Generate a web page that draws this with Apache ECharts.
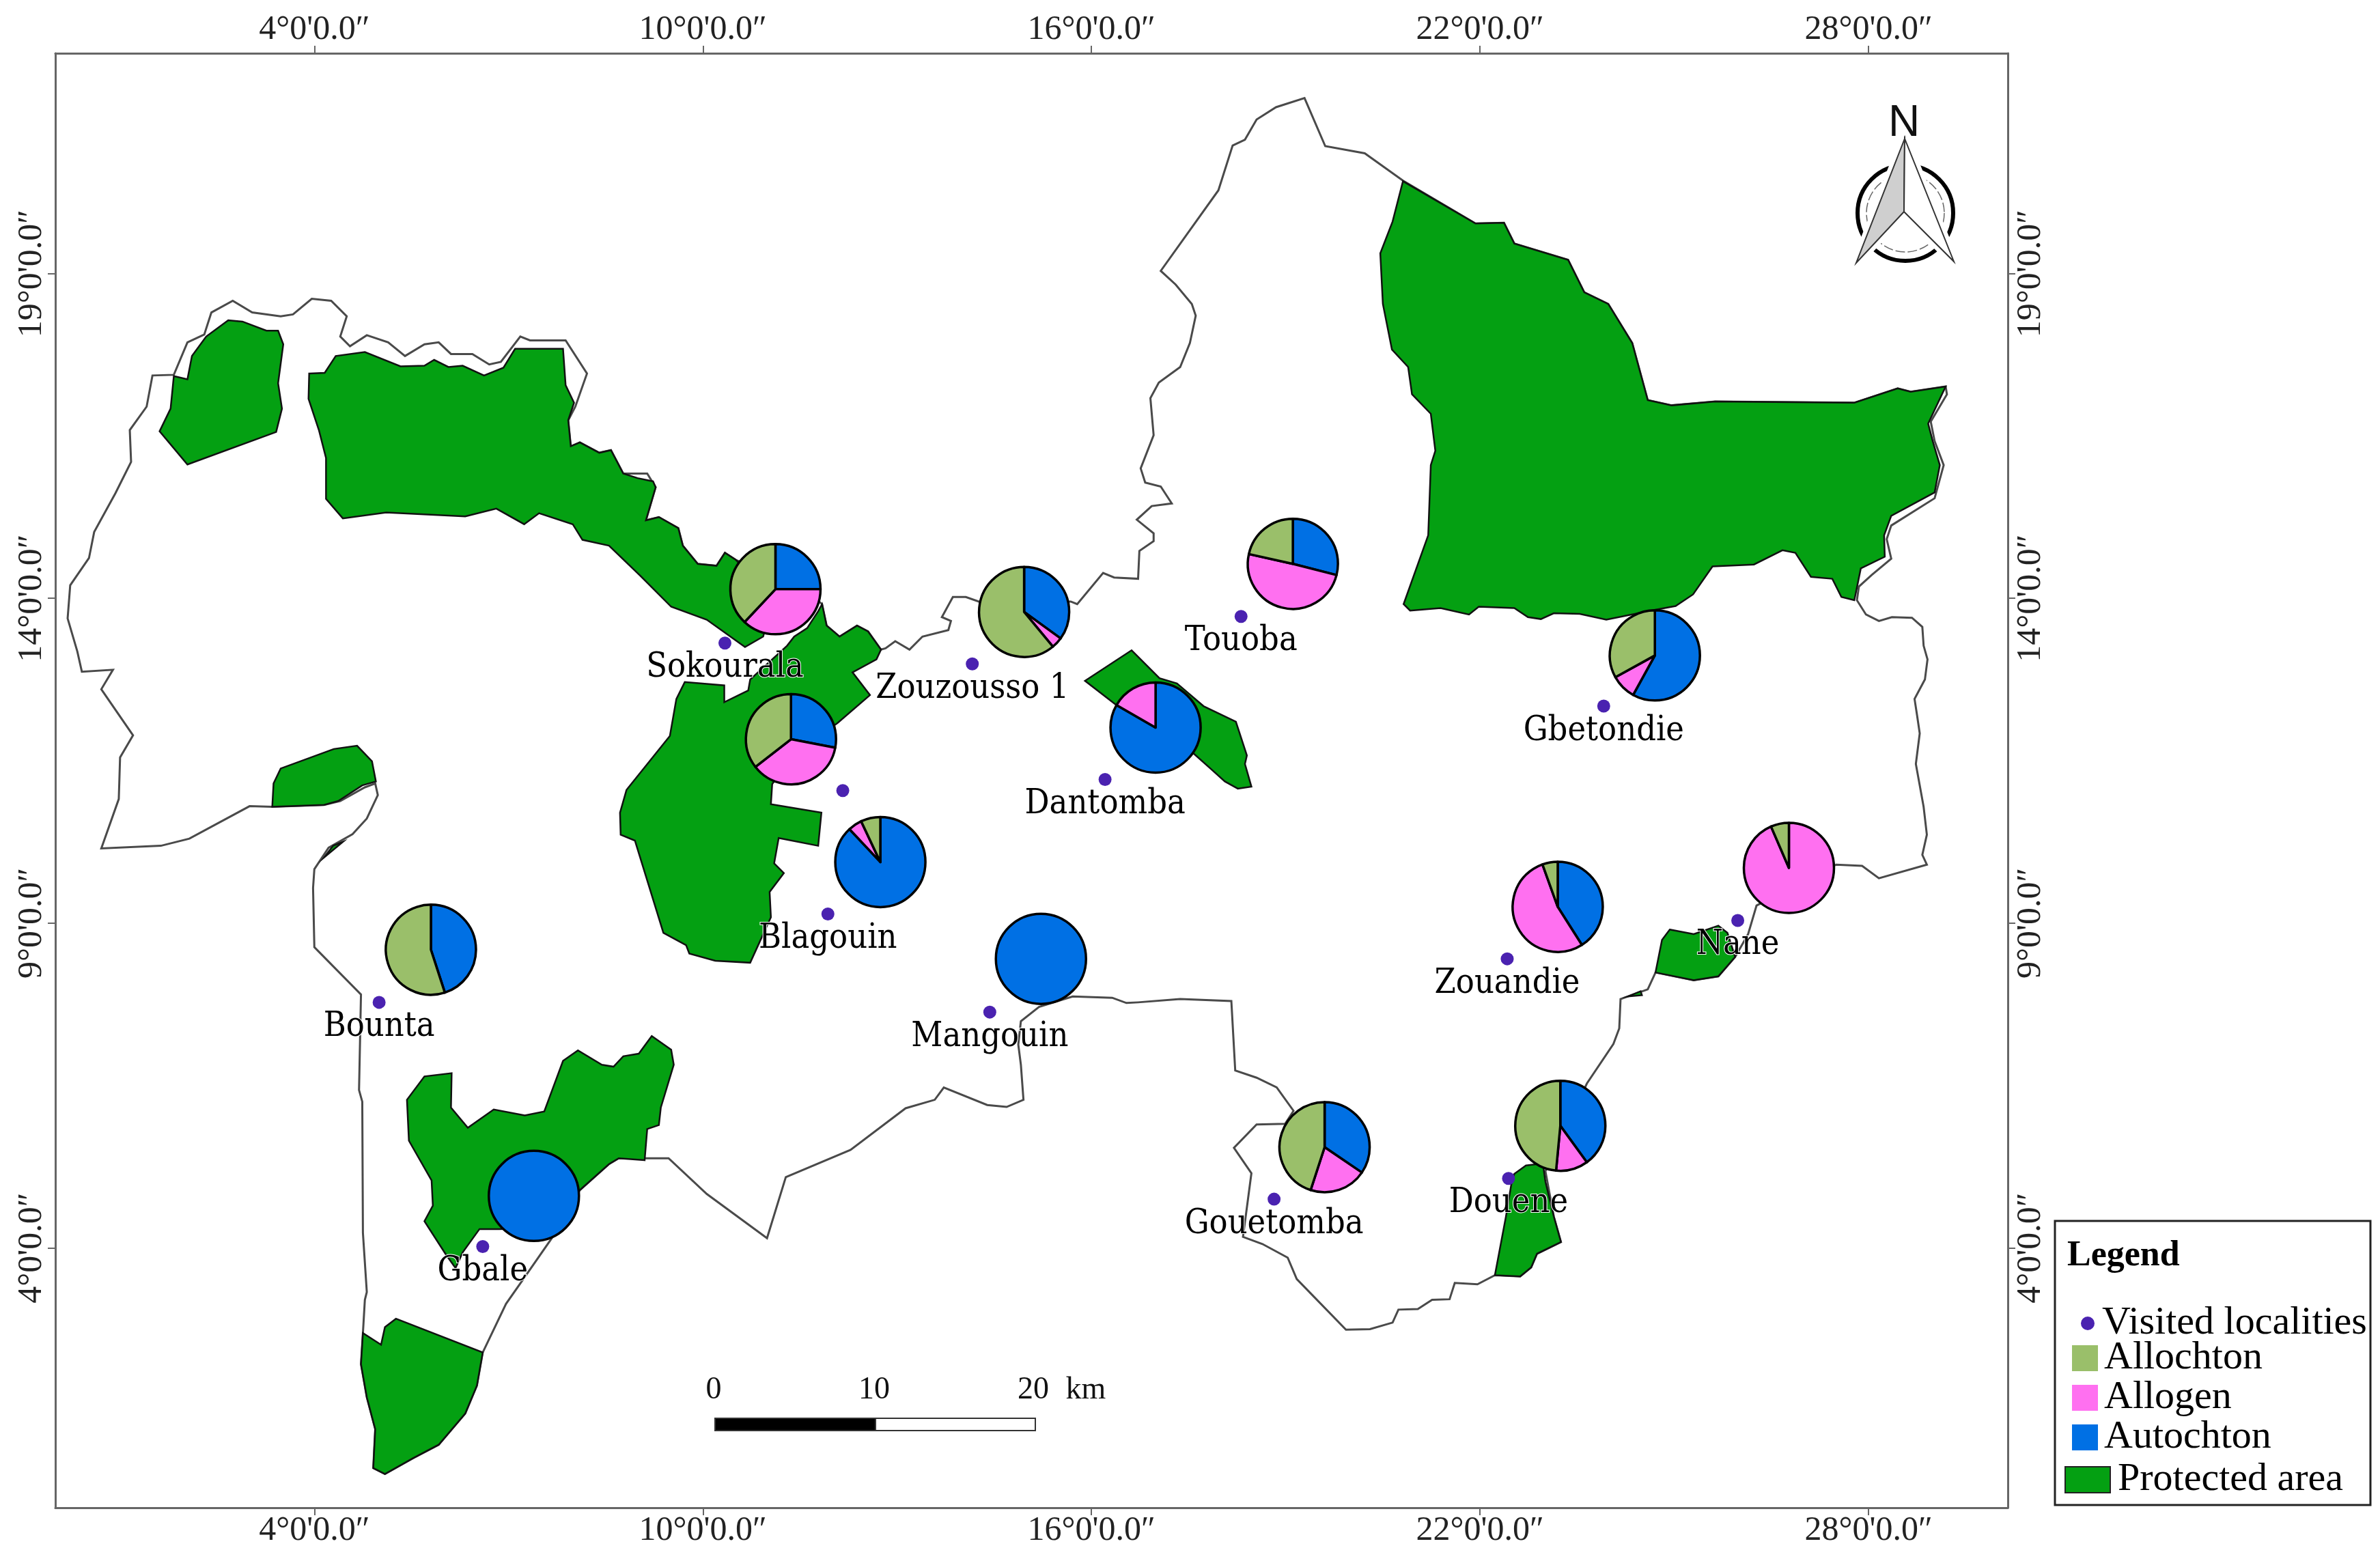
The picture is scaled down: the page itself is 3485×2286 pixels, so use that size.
<!DOCTYPE html>
<html>
<head>
<meta charset="utf-8">
<title>Visited localities</title>
<script src="https://cdn.jsdelivr.net/npm/echarts@6/dist/echarts.min.js"></script>
<style>
html, body { margin: 0; padding: 0; background: #fff; }
#chart { width: 100vw; height: 100vh; }
</style>
</head>
<body>
<div id="chart"></div>
<script>
// axis ticks, in degrees
var xTicks = [4, 10, 16, 22, 28];
var yTicks = [4, 9, 14, 19];

// outer limit of the study area as [lon, lat]
var boundary = [[0.71,10.15],[0.98,10.91],[1.00,11.55],[1.20,11.89],[0.71,12.60],[0.89,12.90],[0.41,12.87],[0.34,13.18],[0.19,13.69],[0.23,14.20],[0.52,14.62],[0.60,15.02],[0.93,15.62],[1.17,16.10],[1.15,16.59],[1.41,16.95],[1.50,17.43],[1.83,17.44],[2.04,17.94],[2.30,18.06],[2.41,18.40],[2.74,18.58],[3.04,18.40],[3.48,18.34],[3.67,18.37],[3.96,18.61],[4.26,18.58],[4.50,18.34],[4.40,18.03],[4.55,17.88],[4.81,18.05],[5.14,17.94],[5.40,17.73],[5.70,17.91],[5.92,17.94],[6.11,17.76],[6.44,17.76],[6.70,17.60],[6.88,17.64],[7.18,18.03],[7.33,17.97],[7.88,17.97],[8.21,17.46],[8.03,16.95],[7.92,16.74],[7.96,16.34],[8.10,16.40],[8.40,16.24],[8.58,16.28],[8.77,15.92],[9.14,15.92],[9.27,15.71],[9.12,15.20],[9.32,15.25],[9.62,15.08],[9.69,14.81],[9.92,14.53],[10.21,14.50],[10.34,14.70],[10.51,14.59],[11.50,14.20],[11.84,13.91],[11.91,13.58],[12.11,13.41],[12.38,13.58],[12.55,13.49],[12.75,13.21],[12.82,13.23],[12.97,13.34],[13.19,13.21],[13.39,13.41],[13.79,13.51],[13.83,13.65],[13.69,13.71],[13.86,14.02],[14.06,14.02],[14.26,13.95],[15.68,13.95],[15.78,13.91],[16.18,14.39],[16.35,14.32],[16.72,14.30],[16.74,14.73],[16.96,14.88],[16.96,15.00],[16.70,15.21],[16.93,15.42],[17.24,15.46],[17.07,15.72],[16.83,15.78],[16.76,16.00],[16.96,16.51],[16.91,17.08],[17.04,17.32],[17.37,17.56],[17.52,17.93],[17.61,18.35],[17.55,18.53],[17.30,18.83],[17.07,19.04],[17.96,20.28],[18.18,20.97],[18.37,21.06],[18.55,21.37],[18.85,21.56],[19.29,21.70],[19.61,20.96],[20.22,20.85],[20.81,20.43],[21.93,19.77],[22.37,19.78],[22.53,19.46],[23.36,19.21],[23.61,18.71],[23.98,18.53],[24.35,17.93],[24.59,17.05],[24.96,16.97],[25.63,17.03],[27.78,17.01],[28.45,17.23],[28.65,17.18],[29.19,17.26],[29.21,17.14],[28.96,16.72],[29.02,16.42],[29.16,16.05],[29.02,15.54],[28.35,15.12],[28.28,14.91],[28.35,14.61],[28.05,14.36],[27.85,14.18],[27.82,13.97],[27.96,13.75],[28.16,13.65],[28.36,13.71],[28.67,13.70],[28.83,13.56],[28.85,13.27],[28.91,13.06],[28.87,12.75],[28.71,12.45],[28.75,12.19],[28.79,11.92],[28.73,11.45],[28.85,10.79],[28.90,10.36],[28.83,10.05],[28.90,9.90],[28.16,9.69],[27.90,9.88],[27.50,9.90],[26.27,9.27],[26.14,8.83],[25.94,8.48],[25.68,8.18],[25.30,8.12],[24.71,8.24],[24.59,7.98],[24.17,7.83],[24.15,7.38],[24.06,7.14],[23.65,6.53],[23.01,5.18],[23.14,4.48],[23.25,4.09],[22.88,3.91],[22.79,3.70],[22.62,3.56],[22.23,3.58],[21.96,3.44],[21.61,3.46],[21.53,3.21],[21.26,3.20],[21.04,3.06],[20.74,3.05],[20.65,2.85],[20.30,2.75],[19.93,2.74],[19.17,3.52],[19.03,3.85],[18.64,4.06],[18.34,4.17],[18.47,5.15],[18.20,5.54],[18.55,5.90],[18.99,5.91],[19.12,6.11],[18.86,6.47],[18.55,6.62],[18.22,6.73],[18.16,7.80],[17.37,7.83],[16.72,7.78],[16.54,7.77],[16.32,7.85],[15.71,7.87],[15.19,7.71],[14.91,7.49],[14.87,7.13],[14.91,6.82],[14.95,6.28],[14.69,6.17],[14.39,6.20],[13.72,6.47],[13.58,6.28],[13.13,6.15],[12.28,5.51],[11.28,5.09],[10.99,4.15],[10.06,4.83],[9.47,5.38],[9.10,5.38],[8.70,5.38],[8.55,5.29],[8.10,4.89],[7.66,4.14],[7.22,3.51],[6.96,3.14],[6.60,2.39],[6.51,1.88],[6.33,1.45],[5.92,0.97],[5.52,0.76],[5.09,0.52],[4.91,0.61],[4.94,1.21],[4.81,1.70],[4.72,2.21],[4.75,2.69],[4.78,3.20],[4.81,3.32],[4.75,4.23],[4.74,6.25],[4.69,6.43],[4.72,7.90],[4.00,8.63],[3.98,9.54],[4.00,9.83],[4.22,10.16],[4.59,10.37],[4.81,10.61],[4.98,10.97],[4.94,11.15],[4.78,11.09],[4.40,10.88],[4.15,10.82],[3.35,10.79],[3.00,10.80],[2.07,10.30],[1.63,10.19]];

// protected areas
var areaNorthWestSmall = [[1.83,17.42],[2.04,17.37],[2.11,17.73],[2.33,18.03],[2.67,18.28],[2.89,18.26],[3.26,18.12],[3.44,18.12],[3.52,17.91],[3.44,17.31],[3.50,16.92],[3.41,16.56],[2.04,16.06],[1.61,16.57],[1.78,16.92]];
var areaNorthWest = [[3.92,17.46],[4.16,17.47],[4.33,17.73],[4.78,17.79],[5.33,17.57],[5.70,17.58],[5.85,17.67],[6.07,17.56],[6.29,17.58],[6.62,17.43],[6.92,17.55],[7.10,17.84],[7.84,17.84],[7.88,17.28],[8.01,17.01],[7.92,16.74],[7.96,16.34],[8.10,16.40],[8.40,16.24],[8.58,16.28],[8.77,15.92],[8.99,15.85],[9.23,15.80],[9.27,15.71],[9.12,15.20],[9.32,15.25],[9.62,15.08],[9.69,14.81],[9.92,14.53],[10.21,14.50],[10.34,14.70],[10.51,14.59],[11.10,14.00],[10.93,13.41],[10.65,13.25],[10.06,13.67],[9.51,13.87],[9.03,14.35],[8.55,14.81],[8.14,14.90],[7.99,15.14],[7.47,15.31],[7.24,15.14],[6.81,15.38],[6.33,15.26],[5.11,15.32],[4.44,15.23],[4.18,15.53],[4.18,16.16],[4.07,16.59],[3.91,17.07]];
var areaWest = [[3.35,10.79],[3.37,11.15],[3.48,11.38],[4.30,11.68],[4.66,11.73],[4.89,11.49],[4.95,11.18],[4.74,11.12],[4.37,10.88],[4.15,10.82]];
var areaWestSliver = [[4.15,10.01],[4.29,10.19],[4.44,10.25]];
var areaCentral = [[11.84,13.91],[11.91,13.58],[12.11,13.41],[12.38,13.58],[12.55,13.49],[12.75,13.21],[12.68,13.06],[12.31,12.86],[12.58,12.51],[12.08,12.08],[11.40,11.60],[11.07,11.14],[11.05,10.83],[11.83,10.70],[11.78,10.19],[11.17,10.31],[11.10,9.92],[11.25,9.77],[11.03,9.48],[11.05,9.09],[10.73,8.39],[10.19,8.42],[9.79,8.53],[9.74,8.66],[9.39,8.85],[8.95,10.27],[8.73,10.36],[8.72,10.70],[8.82,11.05],[9.49,11.88],[9.59,12.45],[9.72,12.71],[10.33,12.66],[10.33,12.40],[10.70,12.58],[10.73,12.75],[11.30,13.27],[11.41,13.41],[11.61,13.54],[11.78,13.80]];
var areaDantomba = [[16.62,13.20],[17.05,12.77],[17.32,12.69],[17.73,12.34],[18.23,12.10],[18.40,11.58],[18.37,11.45],[18.47,11.10],[18.26,11.07],[18.06,11.18],[17.86,11.36],[17.59,11.60],[16.38,12.36],[15.90,12.73]];
var areaNorthEast = [[20.81,20.42],[21.93,19.77],[22.37,19.78],[22.53,19.46],[23.36,19.21],[23.61,18.71],[23.98,18.53],[24.35,17.93],[24.59,17.05],[24.96,16.97],[25.63,17.03],[27.78,17.01],[28.45,17.23],[28.65,17.18],[29.19,17.26],[28.92,16.69],[28.99,16.42],[29.10,16.05],[29.02,15.63],[28.35,15.27],[28.24,14.97],[28.25,14.64],[27.88,14.46],[27.78,13.97],[27.58,14.02],[27.44,14.30],[27.11,14.33],[26.87,14.70],[26.67,14.74],[26.23,14.52],[25.59,14.49],[25.29,14.06],[25.02,13.88],[24.69,13.82],[23.95,13.67],[23.54,13.76],[23.14,13.77],[22.94,13.68],[22.74,13.71],[22.53,13.85],[21.98,13.87],[21.83,13.75],[21.39,13.85],[20.92,13.81],[20.82,13.91],[21.20,14.97],[21.24,16.05],[21.31,16.27],[21.24,16.84],[20.95,17.14],[20.89,17.56],[20.64,17.83],[20.50,18.53],[20.46,19.31],[20.65,19.80]];
var areaNane = [[24.93,8.90],[25.30,8.83],[25.68,8.96],[25.82,8.85],[25.94,8.48],[25.68,8.18],[25.30,8.12],[24.71,8.24],[24.81,8.74]];
var areaSliver = [[24.28,7.87],[24.48,7.95],[24.50,7.89]];
var areaDouene = [[22.71,5.27],[22.97,5.30],[23.01,5.02],[23.14,4.48],[23.25,4.09],[22.88,3.91],[22.79,3.70],[22.62,3.56],[22.23,3.58],[22.40,4.48],[22.49,5.02],[22.53,5.14]];
var areaGbale = [[9.10,5.35],[8.70,5.38],[8.55,5.29],[8.10,4.89],[7.30,4.30],[6.85,4.29],[6.55,4.29],[6.29,3.93],[6.18,3.69],[6.03,3.90],[5.70,4.41],[5.83,4.65],[5.81,5.04],[5.46,5.65],[5.43,6.28],[5.70,6.64],[6.12,6.69],[6.11,6.16],[6.37,5.85],[6.77,6.13],[7.25,6.04],[7.55,6.10],[7.84,6.88],[8.07,7.04],[8.44,6.82],[8.62,6.79],[8.77,6.95],[9.01,6.99],[9.21,7.26],[9.51,7.05],[9.55,6.82],[9.35,6.16],[9.32,5.89],[9.14,5.83]];
var areaSouth = [[6.60,2.39],[6.51,1.88],[6.33,1.45],[5.92,0.97],[5.52,0.76],[5.09,0.52],[4.91,0.61],[4.94,1.21],[4.81,1.70],[4.72,2.21],[4.75,2.69],[5.03,2.51],[5.09,2.78],[5.26,2.91]];
var protectedAreas = [areaNorthWestSmall, areaNorthWest, areaWest, areaWestSliver, areaCentral, areaDantomba, areaNorthEast, areaNane, areaSliver, areaDouene, areaGbale, areaSouth];

// visited localities
var localityNames = ['Sokourala', '', 'Zouzousso 1', 'Touoba', 'Dantomba', 'Blagouin', 'Bounta', 'Mangouin', 'Gbale', 'Gouetomba', 'Douene', 'Zouandie', 'Nane', 'Gbetondie'];
var localityLon = [10.34, 12.16, 14.16, 18.31, 16.21, 11.93, 5.00, 14.43, 6.60, 18.82, 22.44, 22.42, 25.98, 23.91];
var localityLat = [13.31, 11.04, 12.99, 13.72, 11.21, 9.14, 7.78, 7.63, 4.02, 4.75, 5.07, 8.45, 9.04, 12.34];

// pie per locality, same order as above (%)
var pieLon = [11.12, 11.36, 14.96, 19.11, 16.99, 12.74, 5.80, 15.22, 7.39, 19.60, 23.24, 23.20, 26.77, 24.70];
var pieLat = [14.14, 11.83, 13.79, 14.53, 12.01, 9.94, 8.59, 8.45, 4.80, 5.55, 5.88, 9.25, 9.85, 13.12];
var autochton = [25, 28, 35, 29, 83.3, 88, 45, 100, 100, 34.5, 40, 41, 0, 58];
var allogen = [37, 36.5, 4, 49.5, 16.7, 5, 0, 0, 0, 20.5, 11.5, 53.5, 93.5, 9];
var allochton = [38, 35.5, 61, 21.5, 0, 7, 55, 0, 0, 45, 48.5, 5.5, 6.5, 33];

var serif = '"Liberation Serif", serif';
var labelFont = '"DejaVu Serif Condensed", "Liberation Serif", serif';
var colors = { Autochton: '#0070e4', Allogen: '#ff70f0', Allochton: '#9abf6a', protected: '#04a012', point: '#4a22b0' };

var chart = echarts.init(document.getElementById('chart'));
var gridBox = { left: 81, right: 545, top: 78, bottom: 78 };

function degreeLabel(v) {
    return v + "°0'0.0″";
}

function axisFor(position, type, ticks, max) {
    return {
        type: 'value',
        position: position,
        min: 0,
        max: max,
        axisLine: { show: true, onZero: false, lineStyle: { color: '#666', width: 3 } },
        axisTick: { show: true, length: 11, customValues: ticks, lineStyle: { color: '#666', width: 2 } },
        axisLabel: {
            show: true,
            customValues: ticks,
            formatter: degreeLabel,
            margin: 9,
            rotate: type == 'y' ? 90 : 0,
            fontFamily: serif,
            fontSize: 50,
            color: '#222'
        },
        splitLine: { show: false }
    };
}

function polygonSeries(name, polygons, fill, stroke, width, z) {
    return {
        name: name,
        type: 'custom',
        coordinateSystem: 'cartesian2d',
        silent: true,
        z: z,
        itemStyle: { color: fill },
        data: polygons.map(function (p, i) { return [i]; }),
        renderItem: function (params, api) {
            return {
                type: 'polygon',
                shape: { points: polygons[params.dataIndex].map(function (c) { return api.coord(c); }) },
                style: { fill: fill, stroke: stroke, lineWidth: width }
            };
        }
    };
}

var baseSeries = [
    polygonSeries('Boundary', [boundary], '#fff', '#4a4a4a', 3, 2),
    polygonSeries('Protected area', protectedAreas, colors.protected, '#111', 2.5, 3),
    {
        name: 'Visited localities',
        type: 'scatter',
        z: 6,
        silent: true,
        symbolSize: 19,
        itemStyle: { color: colors.point, opacity: 1 },
        label: {
            show: true,
            position: 'bottom',
            distance: 2,
            formatter: '{b}',
            fontFamily: labelFont,
            fontSize: 50,
            color: '#000',
            textBorderColor: '#fff',
            textBorderWidth: 2
        },
        data: localityNames.map(function (n, i) {
            return { name: n, value: [localityLon[i], localityLat[i]] };
        })
    }
];

function legendBase(left, top, iconW, iconH, names, icon, pad) {
    return {
        orient: 'vertical',
        left: left,
        top: top,
        padding: 0,
        itemGap: 0,
        itemWidth: iconW,
        itemHeight: iconH,
        icon: icon,
        selectedMode: false,
        data: names,
        itemStyle: { borderWidth: 0 },
        textStyle: { fontFamily: serif, fontSize: 58, lineHeight: 57, color: '#000', padding: [0, 0, 0, pad] }
    };
}

var protectedLegend = legendBase(3023, 2138, 66, 38, ['Protected area'], 'rect', 6);
protectedLegend.itemStyle = { borderWidth: 2, borderColor: '#222' };

var option = {
    animation: false,
    backgroundColor: '#fff',
    grid: gridBox,
    xAxis: [axisFor('bottom', 'x', xTicks, 30.15), axisFor('top', 'x', xTicks, 30.15)],
    yAxis: [axisFor('left', 'y', yTicks, 22.39), axisFor('right', 'y', yTicks, 22.39)],
    legend: [
        legendBase(3047, 1909, 20, 20, ['Visited localities'], 'circle', 6),
        legendBase(3034, 1960, 38, 38, ['Allochton', 'Allogen', 'Autochton'], 'rect', 4),
        protectedLegend
    ],
    series: baseSeries,
    graphic: { elements: [
        // legend box
        { type: 'rect', z: 1, shape: { x: 3009, y: 1788, width: 462, height: 416 }, style: { fill: '#fff', stroke: '#222', lineWidth: 3 } },
        { type: 'text', z: 10, style: { x: 3027, y: 1840, text: 'Legend', fill: '#000', font: 'bold 52px ' + serif, verticalAlign: 'middle' } },
        // scale bar
        { type: 'rect', z: 10, shape: { x: 1047, y: 2077, width: 235, height: 18 }, style: { fill: '#000', stroke: '#333', lineWidth: 2 } },
        { type: 'rect', z: 10, shape: { x: 1282, y: 2077, width: 234, height: 18 }, style: { fill: '#fff', stroke: '#333', lineWidth: 2 } },
        { type: 'text', z: 10, style: { x: 1045, y: 2036, text: '0', fill: '#111', font: '46px ' + serif, align: 'center', verticalAlign: 'middle' } },
        { type: 'text', z: 10, style: { x: 1280, y: 2036, text: '10', fill: '#111', font: '46px ' + serif, align: 'center', verticalAlign: 'middle' } },
        { type: 'text', z: 10, style: { x: 1513, y: 2036, text: '20', fill: '#111', font: '46px ' + serif, align: 'center', verticalAlign: 'middle' } },
        { type: 'text', z: 10, style: { x: 1590, y: 2036, text: 'km', fill: '#111', font: '46px ' + serif, align: 'center', verticalAlign: 'middle' } },
        // north arrow
        { type: 'text', z: 10, style: { x: 2788, y: 181, text: 'N', fill: '#111', font: '64px "Liberation Sans", sans-serif', align: 'center', verticalAlign: 'middle' } },
        { type: 'circle', z: 10, shape: { cx: 2790, cy: 312, r: 70 }, style: { fill: 'none', stroke: '#000', lineWidth: 6 } },
        { type: 'circle', z: 10, shape: { cx: 2790, cy: 312, r: 57 }, style: { fill: 'none', stroke: '#666', lineWidth: 1.5, lineDash: [14, 4] } },
        { type: 'polygon', z: 11, shape: { points: [[2789, 203], [2718, 385], [2788, 310], [2861, 383]] }, style: { fill: 'none', stroke: '#fff', lineWidth: 14 } },
        { type: 'polygon', z: 12, shape: { points: [[2789, 203], [2718, 385], [2788, 310]] }, style: { fill: '#cfcfcf', stroke: '#333', lineWidth: 2 } },
        { type: 'polygon', z: 12, shape: { points: [[2789, 203], [2861, 383], [2788, 310]] }, style: { fill: '#fff', stroke: '#333', lineWidth: 2 } }
    ] }
};

chart.setOption(option);

// pies sit on the map, so their centres come from the axes
var pieSeries = pieLon.map(function (lon, i) {
    var slices = [
        { name: 'Autochton', value: autochton[i] },
        { name: 'Allogen', value: allogen[i] },
        { name: 'Allochton', value: allochton[i] }
    ].filter(function (d) { return d.value > 0; }).map(function (d) {
        d.itemStyle = { color: colors[d.name] };
        return d;
    });
    return {
        type: 'pie',
        z: 5,
        silent: true,
        center: chart.convertToPixel({ xAxisIndex: 0, yAxisIndex: 0 }, [lon, pieLat[i]]),
        radius: 66,
        startAngle: 90,
        label: { show: false },
        labelLine: { show: false },
        itemStyle: { borderColor: '#000', borderWidth: 3.5 },
        data: slices
    };
});

chart.setOption({ series: baseSeries.concat(pieSeries) });
</script>
</body>
</html>
